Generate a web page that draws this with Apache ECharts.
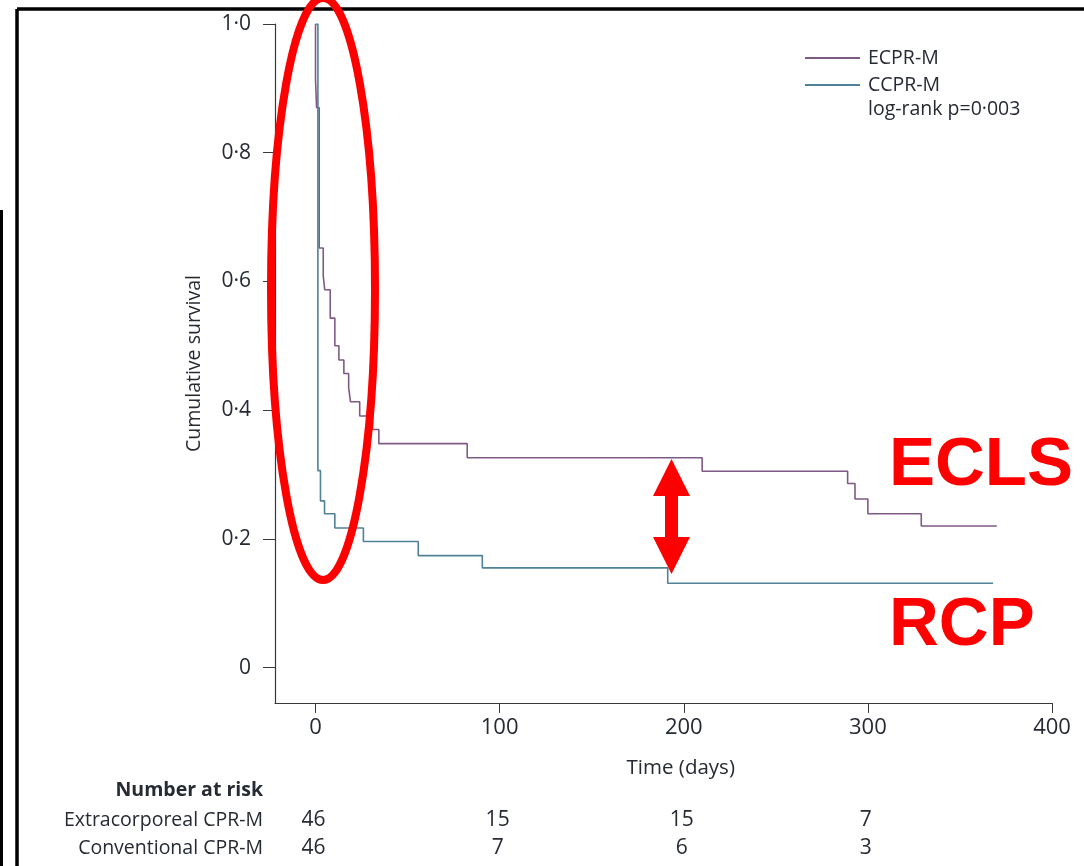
<!DOCTYPE html>
<html>
<head>
<meta charset="utf-8">
<script src="https://cdn.jsdelivr.net/npm/echarts@6/dist/echarts.min.js"></script>
<style>
  html, body { margin: 0; padding: 0; background: #fff; }
  #main { width: 1084px; height: 866px; }
</style>
</head>
<body>
<div id="main"></div>
<script>
// Kaplan-Meier steps (time in days, cumulative survival)
const ecprTime = [0, 0, 0.6, 2, 4.2, 5, 8, 10.5, 12.7, 15.4, 18, 19, 24, 31, 34.4, 82.4, 210, 289, 293, 300, 329, 370];
const ecprSurv = [1.0, 0.913, 0.870, 0.652, 0.609, 0.587, 0.543, 0.500, 0.478, 0.457, 0.435, 0.413, 0.391, 0.370, 0.348, 0.326, 0.305, 0.286, 0.262, 0.239, 0.220, 0.220];
const ccprTime = [0, 1.3, 2.7, 4.9, 10.5, 26, 55.8, 90.6, 191.3, 368];
const ccprSurv = [1.0, 0.306, 0.259, 0.239, 0.217, 0.196, 0.174, 0.155, 0.131, 0.131];

// ticks
const xTicks = [0, 100, 200, 300, 400];
const yTicks = [0, 0.2, 0.4, 0.6, 0.8, 1.0];

// number at risk table
const riskTimes = [0, 100, 200, 300];
const ecprRisk = [46, 15, 15, 7];
const ccprRisk = [46, 7, 6, 3];

const textColor = '#262a33';
const purple = '#7f5a86';
const teal = '#4f8199';
const font = '"Open Sans", "Noto Sans", sans-serif';

const myChart = echarts.init(document.getElementById('main'));

const option = {
    animation: false,
    backgroundColor: '#fff',
    grid: { left: 275, top: 24, right: 32, bottom: 163 },
    legend: {
        orient: 'vertical',
        left: 800,
        top: 42,
        itemWidth: 55,
        itemHeight: 2,
        itemGap: 5,
        icon: 'rect',
        textStyle: { color: textColor, fontSize: 19.5, fontFamily: font, lineHeight: 22, padding: [0, 0, 0, 3] },
        data: ['ECPR-M', 'CCPR-M']
    },
    xAxis: {
        type: 'value',
        min: -22,
        max: 400,
        axisLine: { show: true, onZero: false, lineStyle: { color: '#3a3a3a', width: 1.2 } },
        axisTick: { show: true, customValues: xTicks, length: 10, lineStyle: { color: '#3a3a3a' } },
        axisLabel: { customValues: xTicks, color: textColor, fontSize: 22, fontFamily: font, margin: 14 },
        splitLine: { show: false }
    },
    yAxis: {
        type: 'value',
        min: -0.055,
        max: 1.0,
        name: 'Cumulative survival',
        nameLocation: 'middle',
        nameGap: 71,
        nameTextStyle: { color: textColor, fontSize: 19.5, fontFamily: font },
        axisLine: { show: true, onZero: false, lineStyle: { color: '#3a3a3a', width: 1.2 } },
        axisTick: { show: true, customValues: yTicks, length: 12, lineStyle: { color: '#3a3a3a' } },
        axisLabel: {
            customValues: yTicks,
            color: textColor, fontSize: 21, fontFamily: font, margin: 24,
            formatter: function (v) { return v === 0 ? '0' : v.toFixed(1).replace('.', '·'); }
        },
        splitLine: { show: false }
    },
    series: [
        {
            name: 'ECPR-M',
            type: 'line',
            step: 'end',
            symbol: 'none',
            color: purple,
            lineStyle: { color: purple, width: 1.6 },
            data: ecprTime.map((t, i) => [t, ecprSurv[i]])
        },
        {
            name: 'CCPR-M',
            type: 'line',
            step: 'end',
            symbol: 'none',
            color: teal,
            lineStyle: { color: teal, width: 1.6 },
            data: ccprTime.map((t, i) => [t, ccprSurv[i]])
        }
    ]
};

myChart.setOption(option);

// extra texts and annotations, x positions taken from the axis scale
const g = [];
const tx = (t) => myChart.convertToPixel({ xAxisIndex: 0 }, t);

g.push({ type: 'text', left: 868, top: 99, style: { text: 'log-rank p=0·003', fill: textColor, font: '19.5px ' + font } });
g.push({ type: 'text', x: tx(200) - 3, y: 768, style: { text: 'Time (days)', fill: textColor, font: '20.5px ' + font, align: 'center', verticalAlign: 'middle' } });
g.push({ type: 'text', x: 263, y: 790, style: { text: 'Number at risk', fill: textColor, font: 'bold 19.5px ' + font, align: 'right', verticalAlign: 'middle' } });
g.push({ type: 'text', x: 263, y: 820, style: { text: 'Extracorporeal CPR-M', fill: textColor, font: '19.5px ' + font, align: 'right', verticalAlign: 'middle' } });
g.push({ type: 'text', x: 263, y: 848, style: { text: 'Conventional CPR-M', fill: textColor, font: '19.5px ' + font, align: 'right', verticalAlign: 'middle' } });
riskTimes.forEach((t, i) => {
    g.push({ type: 'text', x: tx(t) - 2, y: 820, style: { text: String(ecprRisk[i]), fill: textColor, font: '21px ' + font, align: 'center', verticalAlign: 'middle' } });
    g.push({ type: 'text', x: tx(t) - 2, y: 848, style: { text: String(ccprRisk[i]), fill: textColor, font: '21px ' + font, align: 'center', verticalAlign: 'middle' } });
});

// frame
g.push({ type: 'line', shape: { x1: 17, y1: 9, x2: 1084, y2: 9 }, style: { stroke: '#000', lineWidth: 3.5 } });
g.push({ type: 'line', shape: { x1: 17, y1: 9, x2: 17, y2: 866 }, style: { stroke: '#000', lineWidth: 3.5 } });
g.push({ type: 'rect', shape: { x: 0, y: 210, width: 3, height: 656 }, style: { fill: '#000' } });

// red annotations
g.push({ type: 'ellipse', shape: { cx: 323, cy: 289, rx: 52, ry: 291 }, style: { fill: 'none', stroke: '#ff0000', lineWidth: 8 }, z: 100 });
g.push({
    type: 'polygon', z: 100,
    shape: { points: [[671.5, 459], [690, 496], [678, 496], [678, 537], [690, 537], [671.5, 574], [653, 537], [665, 537], [665, 496], [653, 496]] },
    style: { fill: '#ff0000' }
});
g.push({ type: 'text', x: 889, y: 466, style: { text: 'ECLS', fill: '#ff0000', font: 'bold 69px "Liberation Sans", Arial, sans-serif', verticalAlign: 'middle' }, z: 100 });
g.push({ type: 'text', x: 889, y: 626, style: { text: 'RCP', fill: '#ff0000', font: 'bold 69px "Liberation Sans", Arial, sans-serif', verticalAlign: 'middle' }, z: 100 });

myChart.setOption({ graphic: g });
</script>
</body>
</html>
